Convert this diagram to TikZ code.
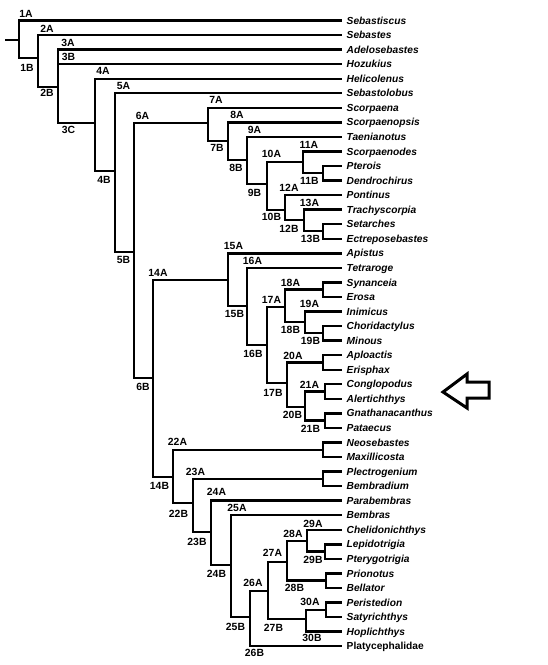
\documentclass[tikz,border=0pt]{standalone}
\usepackage{fontspec}
\setmainfont{Liberation Sans}
\tikzset{
  branch/.style={line width=2.4pt, line join=miter},
  taxon/.style={anchor=west, inner xsep=4.5pt, inner ysep=0pt, text height=7.2pt, text depth=0pt,
    font=\fontsize{10.2}{12}\selectfont\bfseries\itshape},
  lab/.style={inner sep=0pt, text height=7.4pt, text depth=0pt,
    font=\fontsize{10.4}{12}\selectfont\bfseries},
}
\begin{document}
\begin{tikzpicture}[x=1pt, y=-1pt]
  \useasboundingbox (0,0) rectangle (548,665);
  % terminal taxa
  \foreach \taxname [count=\i] in {Sebastiscus, Sebastes, Adelosebastes, Hozukius, Helicolenus,
      Sebastolobus, Scorpaena, Scorpaenopsis, Taenianotus, Scorpaenodes, Pterois, Dendrochirus,
      Pontinus, Trachyscorpia, Setarches, Ectreposebastes, Apistus, Tetraroge, Synanceia, Erosa,
      Inimicus, Choridactylus, Minous, Aploactis, Erisphax, Conglopodus, Alertichthys,
      Gnathanacanthus, Pataecus, Neosebastes, Maxillicosta, Plectrogenium, Bembradium,
      Parabembras, Bembras, Chelidonichthys, Lepidotrigia, Pterygotrigia, Prionotus, Bellator,
      Peristedion, Satyrichthys, Hoplichthys}
    \node[taxon] (t\i) at (342, {20.5+14.55*(\i-1)}) {\taxname};
  \node[taxon, font=\fontsize{10.2}{12}\selectfont\bfseries] (t44) at (342, 646.15) {Platycephalidae};

  % branching points
  \coordinate (root) at (5,40);
  \coordinate (n1) at (19,40);
  \coordinate (n2) at (38,58);
  \coordinate (n3) at (58,87);
  \coordinate (n4) at (95,123);
  \coordinate (n5) at (115,171);
  \coordinate (n6) at (134,252);
  \coordinate (n7) at (208,123);
  \coordinate (n8) at (228,141);
  \coordinate (n9) at (247,160);
  \coordinate (n10) at (267,184);
  \coordinate (n11) at (303,162);
  \coordinate (n11b) at (323,173);
  \coordinate (n12) at (285,210);
  \coordinate (n13) at (304,220);
  \coordinate (n13b) at (323,231);
  \coordinate (n14) at (153,378);
  \coordinate (n15) at (228,280);
  \coordinate (n16) at (247,306);
  \coordinate (n17) at (267,345);
  \coordinate (n18) at (285,307);
  \coordinate (n18a) at (323,289.5);
  \coordinate (n19) at (305,322);
  \coordinate (n19b) at (323,333);
  \coordinate (n20) at (287,383);
  \coordinate (n20a) at (323,362.5);
  \coordinate (n21) at (305,407);
  \coordinate (n21a) at (325,391.5);
  \coordinate (n21b) at (325,420.5);
  \coordinate (n22) at (173,477);
  \coordinate (n22a) at (323,450);
  \coordinate (n23) at (193,503);
  \coordinate (n23a) at (323,479);
  \coordinate (n24) at (211,532);
  \coordinate (n25) at (231,565);
  \coordinate (n26) at (250,617);
  \coordinate (n27) at (268,591);
  \coordinate (n28) at (287,562);
  \coordinate (n29) at (307,541);
  \coordinate (n29b) at (325,551.5);
  \coordinate (n28b) at (326,580.5);
  \coordinate (n30) at (306,619);
  \coordinate (n30a) at (326,610);

  % branches
  \draw[branch] (root) -- (n1);
  \draw[branch] (n1) |- (t1.west);   \draw[branch] (n1) |- (n2);
  \draw[branch] (n2) |- (t2.west);   \draw[branch] (n2) |- (n3);
  \draw[branch] (n3) |- (t3.west);   \draw[branch] (n3) |- (t4.west);
  \draw[branch] (n3) |- (n4);
  \draw[branch] (n4) |- (t5.west);   \draw[branch] (n4) |- (n5);
  \draw[branch] (n5) |- (t6.west);   \draw[branch] (n5) |- (n6);
  \draw[branch] (n6) |- (n7);        \draw[branch] (n6) |- (n14);
  \draw[branch] (n7) |- (t7.west);   \draw[branch] (n7) |- (n8);
  \draw[branch] (n8) |- (t8.west);   \draw[branch] (n8) |- (n9);
  \draw[branch] (n9) |- (t9.west);   \draw[branch] (n9) |- (n10);
  \draw[branch] (n10) |- (n11);      \draw[branch] (n10) |- (n12);
  \draw[branch] (n11) |- (t10.west); \draw[branch] (n11) |- (n11b);
  \draw[branch] (n11b) |- (t11.west); \draw[branch] (n11b) |- (t12.west);
  \draw[branch] (n12) |- (t13.west); \draw[branch] (n12) |- (n13);
  \draw[branch] (n13) |- (t14.west); \draw[branch] (n13) |- (n13b);
  \draw[branch] (n13b) |- (t15.west); \draw[branch] (n13b) |- (t16.west);
  \draw[branch] (n14) |- (n15);      \draw[branch] (n14) |- (n22);
  \draw[branch] (n15) |- (t17.west); \draw[branch] (n15) |- (n16);
  \draw[branch] (n16) |- (t18.west); \draw[branch] (n16) |- (n17);
  \draw[branch] (n17) |- (n18);      \draw[branch] (n17) |- (n20);
  \draw[branch] (n18) |- (n18a);     \draw[branch] (n18) |- (n19);
  \draw[branch] (n18a) |- (t19.west); \draw[branch] (n18a) |- (t20.west);
  \draw[branch] (n19) |- (t21.west); \draw[branch] (n19) |- (n19b);
  \draw[branch] (n19b) |- (t22.west); \draw[branch] (n19b) |- (t23.west);
  \draw[branch] (n20) |- (n20a);     \draw[branch] (n20) |- (n21);
  \draw[branch] (n20a) |- (t24.west); \draw[branch] (n20a) |- (t25.west);
  \draw[branch] (n21) |- (n21a);     \draw[branch] (n21) |- (n21b);
  \draw[branch] (n21a) |- (t26.west); \draw[branch] (n21a) |- (t27.west);
  \draw[branch] (n21b) |- (t28.west); \draw[branch] (n21b) |- (t29.west);
  \draw[branch] (n22) |- (n22a);     \draw[branch] (n22) |- (n23);
  \draw[branch] (n22a) |- (t30.west); \draw[branch] (n22a) |- (t31.west);
  \draw[branch] (n23) |- (n23a);     \draw[branch] (n23) |- (n24);
  \draw[branch] (n23a) |- (t32.west); \draw[branch] (n23a) |- (t33.west);
  \draw[branch] (n24) |- (t34.west); \draw[branch] (n24) |- (n25);
  \draw[branch] (n25) |- (t35.west); \draw[branch] (n25) |- (n26);
  \draw[branch] (n26) |- (n27);      \draw[branch] (n26) |- (t44.west);
  \draw[branch] (n27) |- (n28);      \draw[branch] (n27) |- (n30);
  \draw[branch] (n28) |- (n29);      \draw[branch] (n28) |- (n28b);
  \draw[branch] (n29) |- (t36.west); \draw[branch] (n29) |- (n29b);
  \draw[branch] (n29b) |- (t37.west); \draw[branch] (n29b) |- (t38.west);
  \draw[branch] (n28b) |- (t39.west); \draw[branch] (n28b) |- (t40.west);
  \draw[branch] (n30) |- (n30a);     \draw[branch] (n30) |- (t43.west);
  \draw[branch] (n30a) |- (t41.west); \draw[branch] (n30a) |- (t42.west);

  % node labels
  \node[lab] (l1A) at (26,13.5) {1A};    \node[lab] (l1B) at (27,68) {1B};
  \node[lab] (l2A) at (47,28.5) {2A};    \node[lab] (l2B) at (47,93) {2B};
  \node[lab] (l3A) at (68,42.5) {3A};    \node[lab] (l3B) at (68.5,57) {3B};
  \node[lab] (l3C) at (68.5,130) {3C};
  \node[lab] (l4A) at (103,71) {4A};     \node[lab] (l4B) at (104,180) {4B};
  \node[lab] (l5A) at (123.5,85.5) {5A}; \node[lab] (l5B) at (123.5,260) {5B};
  \node[lab] (l6A) at (142.5,116) {6A};  \node[lab] (l6B) at (143,387) {6B};
  \node[lab] (l7A) at (216,99.5) {7A};   \node[lab] (l7B) at (217,148) {7B};
  \node[lab] (l8A) at (237,114.5) {8A};  \node[lab] (l8B) at (236,168) {8B};
  \node[lab] (l9A) at (254.5,129.5) {9A}; \node[lab] (l9B) at (254.5,193) {9B};
  \node[lab] (l10A) at (271.5,154) {10A}; \node[lab] (l10B) at (271.5,217) {10B};
  \node[lab] (l11A) at (309,144.5) {11A}; \node[lab] (l11B) at (309.5,181) {11B};
  \node[lab] (l12A) at (289,187.5) {12A}; \node[lab] (l12B) at (289,228.5) {12B};
  \node[lab] (l13A) at (309.5,203) {13A}; \node[lab] (l13B) at (310.5,239) {13B};
  \node[lab] (l14A) at (158,273) {14A};  \node[lab] (l14B) at (159.5,486) {14B};
  \node[lab] (l15A) at (233.5,245.5) {15A}; \node[lab] (l15B) at (234.5,314) {15B};
  \node[lab] (l16A) at (252.5,261) {16A}; \node[lab] (l16B) at (253,354) {16B};
  \node[lab] (l17A) at (271.5,300) {17A}; \node[lab] (l17B) at (273,392.5) {17B};
  \node[lab] (l18A) at (290.5,282.5) {18A}; \node[lab] (l18B) at (290.5,330) {18B};
  \node[lab] (l19A) at (309.5,304) {19A}; \node[lab] (l19B) at (310.5,341) {19B};
  \node[lab] (l20A) at (293,356) {20A};  \node[lab] (l20B) at (292.5,414.5) {20B};
  \node[lab] (l21A) at (309.5,385) {21A}; \node[lab] (l21B) at (310.5,428.5) {21B};
  \node[lab] (l22A) at (177.5,441.5) {22A}; \node[lab] (l22B) at (178.5,514) {22B};
  \node[lab] (l23A) at (195.5,471.5) {23A}; \node[lab] (l23B) at (197,542) {23B};
  \node[lab] (l24A) at (216.5,492) {24A}; \node[lab] (l24B) at (216.5,574) {24B};
  \node[lab] (l25A) at (237,507.5) {25A}; \node[lab] (l25B) at (235.5,627) {25B};
  \node[lab] (l26A) at (253,582.5) {26A}; \node[lab] (l26B) at (254.5,653) {26B};
  \node[lab] (l27A) at (272.5,553) {27A}; \node[lab] (l27B) at (273.5,628) {27B};
  \node[lab] (l28A) at (293,534) {28A};  \node[lab] (l28B) at (294.5,587.5) {28B};
  \node[lab] (l29A) at (313,523.5) {29A}; \node[lab] (l29B) at (313,560) {29B};
  \node[lab] (l30A) at (310,602) {30A};  \node[lab] (l30B) at (312,638) {30B};

  % outlined pointer
  \draw[line width=3pt, line join=miter, fill=white]
    (443,392) -- (467,374) -- (467,382) -- (489,382) -- (489,398)
    -- (467,398) -- (467,408) -- cycle;
\end{tikzpicture}
\end{document}
